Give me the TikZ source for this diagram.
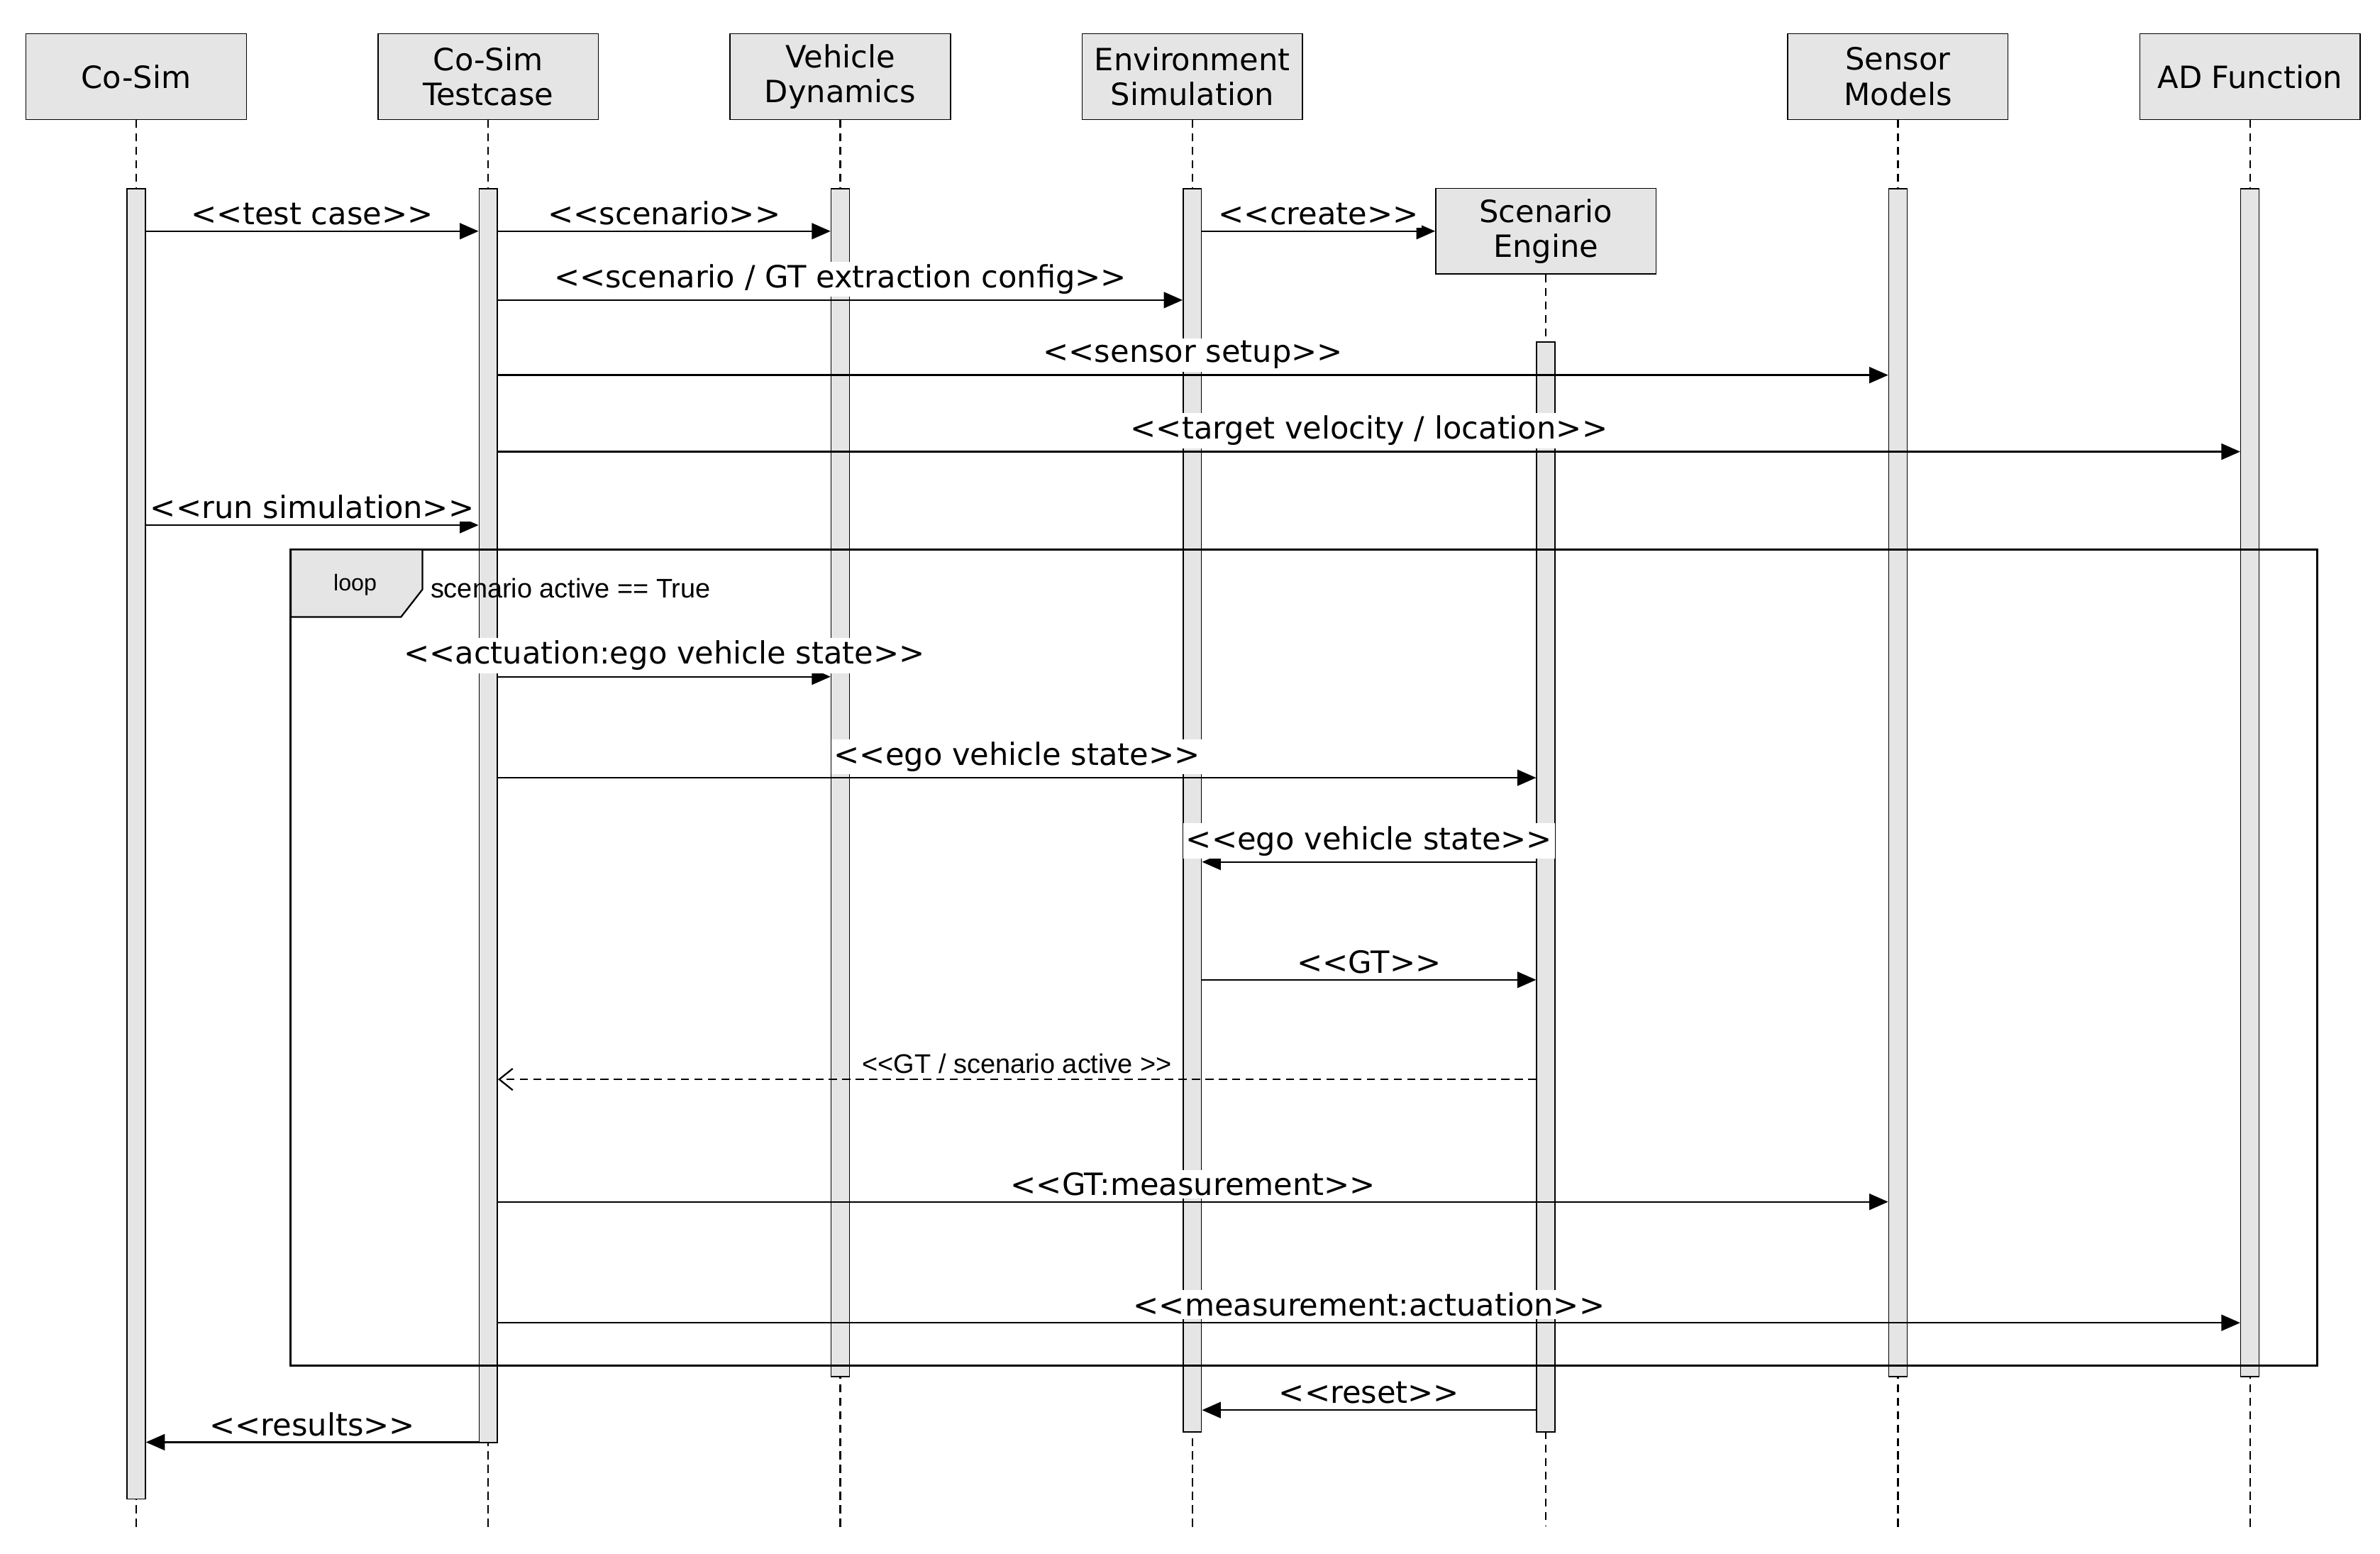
\documentclass[tikz,border=0pt]{standalone}
\usepackage{fontspec}
\setmainfont{DejaVu Sans}
\newfontfamily\arialf{Liberation Sans}
\usetikzlibrary{arrows.meta}
\newcommand\LLq{<{}<}
\newcommand\GGq{>{}>}
\begin{document}
\begin{tikzpicture}[x=0.02cm,y=-0.02cm,
  head/.style={draw,fill=black!10,minimum width=2.88cm,minimum height=1.12cm,align=center,font=\fontsize{11.4}{13}\selectfont,inner sep=1pt},
  bar/.style={draw,fill=black!10,minimum width=0.24cm,anchor=north,inner sep=0pt},
  life/.style={densely dashed,line width=0.6pt},
  msg/.style={-{Triangle[length=7pt,width=6pt]},line width=0.6pt},
  ret/.style={-{Straight Barb[length=5pt,width=8pt]},densely dashed,line width=0.6pt},
  lbl/.style={fill=white,inner sep=1pt,above=1pt,font=\fontsize{11.4}{13}\selectfont}]
\useasboundingbox (0,0) rectangle (1555,1015);
% headers
\node[head] (h1) at (89,50) {Co-Sim};
\node[head] (h2) at (319,50) {Co-Sim\\Testcase};
\node[head] (h3) at (549,50) {Vehicle\\Dynamics};
\node[head] (h4) at (779,50) {Environment\\Simulation};
\node[head] (h6) at (1240,50) {Sensor\\Models};
\node[head] (h7) at (1470,50) {AD Function};
\node[head] (h5) at (1010,151) {Scenario\\Engine};
% lifelines
\coordinate (e1) at (89,1000); \coordinate (e2) at (319,1000); \coordinate (e3) at (549,1000);
\coordinate (e4) at (779,1000); \coordinate (e5) at (1010,997); \coordinate (e6) at (1240,1000); \coordinate (e7) at (1470,1000);
\foreach \i in {1,...,7} {\draw[life] (h\i.south) -- (e\i);}
% bars
\node[bar,minimum height=17.12cm] (cs) at (89,123) {};
\node[bar,minimum height=16.38cm] (tc) at (319,123) {};
\node[bar,minimum height=15.52cm] (vd) at (549,123) {};
\node[bar,minimum height=16.24cm] (en) at (779,123) {};
\node[bar,minimum height=14.24cm] (se) at (1010,223) {};
\node[bar,minimum height=15.52cm] (sm) at (1240,123) {};
\node[bar,minimum height=15.52cm] (ad) at (1470,123) {};
% messages
\draw[msg] (cs.east |- 0,151) -- (tc.west |- 0,151) node[midway,lbl] {\LLq test case\GGq};
\draw[msg] (tc.east |- 0,151) -- (vd.west |- 0,151) node[midway,lbl] {\LLq scenario\GGq};
\draw[msg] (en.east |- 0,151) -- (h5.west |- 0,151) node[midway,lbl] {\LLq create\GGq};
\draw[msg] (tc.east |- 0,196) -- (en.west |- 0,196) node[midway,lbl] {\LLq scenario / GT extraction config\GGq};
\draw[msg] (tc.east |- 0,245) -- (sm.west |- 0,245) node[midway,lbl] {\LLq sensor setup\GGq};
\draw[msg] (tc.east |- 0,295) -- (ad.west |- 0,295) node[midway,lbl] {\LLq target velocity / location\GGq};
\draw[msg] (cs.east |- 0,343) -- (tc.west |- 0,343) node[midway,lbl] {\LLq run simulation\GGq};
% loop frame
\draw[line width=0.8pt] (190,359) rectangle (1514,892);
\draw[fill=black!10,line width=0.6pt] (190,359) -- (276,359) -- (276,385) -- (262,403) -- (190,403) -- cycle;
\node[font=\arialf\fontsize{8.5}{10}\selectfont] (lp) at (232,382) {loop};
\node[font=\arialf\fontsize{10}{12}\selectfont,anchor=west,inner sep=0pt] (cond) at (281,384) {scenario active == True};
\draw[msg] (tc.east |- 0,442) -- (vd.west |- 0,442) node[midway,lbl] {\LLq actuation:ego vehicle state\GGq};
\draw[msg] (tc.east |- 0,508) -- (se.west |- 0,508) node[midway,lbl] {\LLq ego vehicle state\GGq};
\draw[msg] (se.west |- 0,563) -- (en.east |- 0,563) node[midway,lbl] {\LLq ego vehicle state\GGq};
\draw[msg] (en.east |- 0,640) -- (se.west |- 0,640) node[midway,lbl] {\LLq GT\GGq};
\draw[ret] (se.west |- 0,705) -- (tc.east |- 0,705) node[midway,lbl,font=\arialf\fontsize{10}{12}\selectfont] {\LLq GT / scenario active \GGq};
\draw[msg] (tc.east |- 0,785) -- (sm.west |- 0,785) node[midway,lbl] {\LLq GT:measurement\GGq};
\draw[msg] (tc.east |- 0,864) -- (ad.west |- 0,864) node[midway,lbl] {\LLq measurement:actuation\GGq};
\draw[msg] (se.west |- 0,921) -- (en.east |- 0,921) node[midway,lbl] {\LLq reset\GGq};
\draw[msg] (tc.west |- 0,942) -- (cs.east |- 0,942) node[midway,lbl] {\LLq results\GGq};
\end{tikzpicture}
\end{document}
